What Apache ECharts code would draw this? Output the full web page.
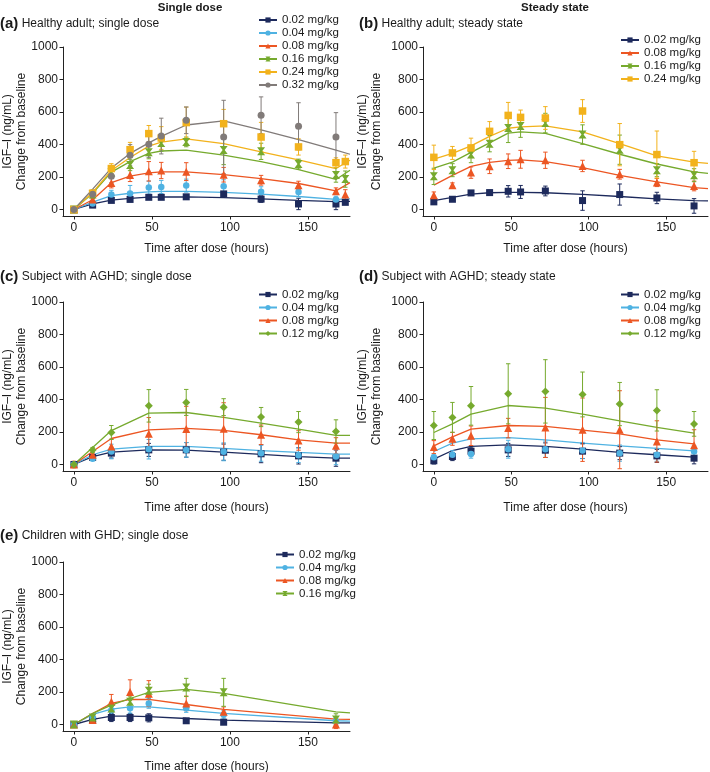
<!DOCTYPE html>
<html><head><meta charset="utf-8">
<script src="https://cdn.jsdelivr.net/npm/echarts@6/dist/echarts.min.js"></script>
<style>html,body{margin:0;padding:0;background:#fff}#c{width:710px;height:772px}</style>
</head><body><div id="c"></div>
<script>
// ---------------- DATA ----------------
const xTickValues = [0, 50, 100, 150];
const yTickValues = [0, 200, 400, 600, 800, 1000];

// (a) Healthy adult; single dose
const obsTimesA = [0, 12, 24, 36, 48, 56, 72, 96, 120, 144, 168, 174];
const modelTimesA = [0, 12, 24, 36, 48, 56, 72, 96, 120, 144, 168, 177];
const a002 = [0, 27, 56, 62, 75, 75, 78, 96, 64, 34, 34, 44];
const a002sd = [0, 8, 10, 10, 10, 10, 10, 15, 20, 35, 35, 10];
const a004 = [0, 37, 93, 98, 135, 139, 147, 143, 110, 108, 62, null];
const a004sd = [0, 10, 25, 50, 40, 40, 40, 40, 30, 30, 20, null];
const a008 = [0, 62, 163, 212, 235, 240, 233, 214, 180, 149, 113, 92];
const a008sd = [0, 15, 30, 40, 60, 50, 55, 45, 30, 25, 20, 30];
const a016 = [0, 92, 228, 274, 352, 409, 416, 366, 358, 280, 213, 187];
const a016sd = [0, 15, 25, 35, 40, 50, 30, 90, 50, 30, 45, 50];
const a024 = [0, 100, 252, 368, 467, 440, 535, 528, 446, 385, 288, 295];
const a024sd = [0, 20, 30, 45, 50, 70, 95, 88, 90, 50, 30, 40];
const a032 = [0, 94, 204, 334, 401, 452, 549, 446, 580, 512, 446, null];
const a032sd = [0, 25, 40, 65, 80, 110, 82, 226, 113, 145, 150, null];
const ma002 = [0, 35, 58, 68, 76, 77, 78, 73, 65, 56, 48, 50];
const ma004 = [0, 45, 85, 100, 108, 112, 112, 105, 95, 80, 62, 66];
const ma008 = [0, 60, 165, 205, 225, 232, 232, 215, 190, 160, 115, 165];
const ma016 = [0, 100, 230, 295, 345, 360, 365, 335, 295, 245, 185, 242];
const ma024 = [0, 105, 240, 320, 390, 415, 435, 405, 355, 305, 252, 303];
const ma032 = [0, 125, 255, 345, 410, 450, 520, 545, 490, 430, 365, 340];

// (b) Healthy adult; steady state
const obsTimesB = [0, 12, 24, 36, 48, 56, 72, 96, 120, 144, 168];
const modelTimesB = [0, 12, 24, 36, 48, 56, 72, 96, 120, 144, 168, 177];
const b002 = [47, 63, 102, 104, 112, 108, 114, 55, 92, 71, 22];
const b002sd = [15, 10, 15, 15, 35, 40, 30, 60, 65, 35, 45];
const b008 = [88, 149, 227, 266, 297, 309, 303, 268, 217, 166, 145];
const b008sd = [20, 15, 35, 45, 45, 55, 50, 35, 30, 25, 30];
const b016 = [204, 242, 338, 405, 502, 514, 532, 461, 368, 242, 211];
const b016sd = [50, 40, 50, 50, 90, 70, 60, 60, 90, 40, 40];
const b024 = [321, 348, 379, 481, 579, 567, 563, 606, 399, 338, 288];
const b024sd = [75, 40, 60, 60, 80, 45, 70, 70, 130, 145, 70];
const mb002 = [55, 75, 95, 103, 105, 105, 103, 93, 80, 65, 55, 53];
const mb008 = [150, 210, 265, 290, 302, 305, 295, 258, 210, 170, 135, 128];
const mb016 = [255, 292, 352, 410, 470, 478, 468, 405, 340, 280, 232, 222];
const mb024 = [310, 345, 392, 450, 500, 508, 514, 478, 405, 330, 292, 284];

// (c) Subject with AGHD; single dose
const obsTimesC = [0, 12, 24, 48, 72, 96, 120, 144, 168];
const modelTimesC = [0, 12, 24, 48, 72, 96, 120, 144, 168, 177];
const c002 = [0, 43, 70, 90, 90, 76, 66, 53, 39];
const c002sd = [10, 10, 30, 40, 45, 50, 55, 50, 50];
const c004 = [0, 35, 80, 94, 90, 78, 70, 57, 49];
const c004sd = [10, 10, 45, 60, 45, 55, 50, 45, 50];
const c008 = [0, 60, 111, 189, 218, 220, 183, 148, 115];
const c008sd = [20, 10, 45, 100, 140, 160, 60, 60, 50];
const c012 = [0, 90, 197, 361, 382, 353, 292, 261, 203];
const c012sd = [10, 15, 43, 100, 80, 52, 59, 65, 72];
const mc002 = [0, 49, 76, 90, 88, 76, 62, 49, 39, 39];
const mc004 = [0, 60, 94, 111, 111, 99, 86, 74, 64, 64];
const mc008 = [0, 80, 160, 213, 222, 210, 183, 152, 131, 131];
const mc012 = [0, 105, 209, 316, 320, 290, 255, 218, 179, 179];

// (d) Subject with AGHD; steady state
const obsTimesD = [0, 12, 24, 48, 72, 96, 120, 144, 168];
const modelTimesD = [0, 12, 24, 48, 72, 96, 120, 144, 168];
const d002 = [23, 49, 82, 90, 88, 82, 70, 53, 39];
const d002sd = [20, 25, 25, 40, 45, 45, 40, 40, 35];
const d004 = [45, 60, 64, 94, 94, 86, 70, 60, 80];
const d004sd = [20, 25, 25, 55, 50, 50, 50, 40, 35];
const d008 = [107, 158, 177, 224, 228, 214, 214, 142, 119];
const d008sd = [40, 40, 60, 60, 185, 195, 240, 127, 95];
const d012 = [240, 290, 361, 435, 450, 431, 372, 333, 250];
const d012sd = [86, 92, 119, 185, 195, 138, 133, 127, 76];
const md002 = [33, 86, 111, 121, 111, 94, 74, 60, 45];
const md004 = [80, 131, 158, 166, 152, 131, 115, 99, 84];
const md008 = [115, 170, 218, 240, 234, 212, 189, 152, 127];
const md012 = [197, 250, 310, 363, 347, 310, 269, 228, 193];

// (e) Children with GHD; single dose
const obsTimesE = [0, 12, 24, 36, 48, 72, 96, 168];
const modelTimesE = [0, 12, 24, 36, 48, 72, 96, 168, 177];
const e002 = [0, 27, 43, 43, 41, 23, 14, null];
const e002sd = [0, 15, 25, 25, 25, 10, 10, null];
const e004 = [0, 45, 88, 100, 130, 100, 60, 20];
const e004sd = [0, 10, 25, 30, 30, 25, 25, 20];
const e008 = [0, 27, 140, 200, 190, 130, 78, 0];
const e008sd = [0, 10, 45, 75, 80, 45, 30, 25];
const e016 = [0, 43, 99, 140, 208, 228, 198, 31];
const e016sd = [0, 15, 20, 30, 40, 56, 86, 35];
const me002 = [0, 31, 51, 51, 49, 37, 27, 10, 10];
const me004 = [0, 62, 95, 109, 109, 88, 68, 23, 21];
const me008 = [0, 68, 130, 154, 154, 123, 93, 33, 31];
const me016 = [0, 68, 119, 160, 198, 216, 191, 78, 72];

// ---------------- STYLE ----------------
const FONT = "'Liberation Sans', Arial, Helvetica, sans-serif";
const TXT = '#1a1a1a';
const HOURGLASS = 'path://M0,0L10,0L6.3,5L10,10L0,10L3.7,5Z';
const doseStyle = {
  '0.02 mg/kg': { color: '#1d2a5c', symbol: 'rect', size: 7 },
  '0.04 mg/kg': { color: '#4fb2e2', symbol: 'circle', size: 6.5 },
  '0.08 mg/kg': { color: '#ec5623', symbol: 'triangle', size: 8 },
  '0.12 mg/kg': { color: '#76aa2e', symbol: 'diamond', size: 8 },
  '0.16 mg/kg': { color: '#76aa2e', symbol: HOURGLASS, size: 8 },
  '0.24 mg/kg': { color: '#f2b21c', symbol: 'rect', size: 7.5 },
  '0.32 mg/kg': { color: '#817b79', symbol: 'circle', size: 7 }
};

const panels = [
  { grid: { left: 63, top: 47, width: 287, height: 169 }, xTitleY: 248.5, legendPos: { left: 258, top: 13.5 },
    yNameX: 15, obsT: obsTimesA, modT: modelTimesA,
    doses: [['0.02 mg/kg', a002, a002sd, ma002], ['0.04 mg/kg', a004, a004sd, ma004], ['0.08 mg/kg', a008, a008sd, ma008],
            ['0.16 mg/kg', a016, a016sd, ma016], ['0.24 mg/kg', a024, a024sd, ma024], ['0.32 mg/kg', a032, a032sd, ma032]] },
  { grid: { left: 423, top: 47, width: 285, height: 169 }, xTitleY: 248.5, legendPos: { left: 620, top: 33.5 },
    yNameX: 370, obsT: obsTimesB, modT: modelTimesB,
    doses: [['0.02 mg/kg', b002, b002sd, mb002], ['0.08 mg/kg', b008, b008sd, mb008],
            ['0.16 mg/kg', b016, b016sd, mb016], ['0.24 mg/kg', b024, b024sd, mb024]] },
  { grid: { left: 63, top: 302, width: 287, height: 169 }, xTitleY: 508, legendPos: { left: 258, top: 288 },
    yNameX: 15, obsT: obsTimesC, modT: modelTimesC,
    doses: [['0.02 mg/kg', c002, c002sd, mc002], ['0.04 mg/kg', c004, c004sd, mc004],
            ['0.08 mg/kg', c008, c008sd, mc008], ['0.12 mg/kg', c012, c012sd, mc012]] },
  { grid: { left: 423, top: 302, width: 285, height: 169 }, xTitleY: 508, legendPos: { left: 620, top: 288 },
    yNameX: 370, obsT: obsTimesD, modT: modelTimesD,
    doses: [['0.02 mg/kg', d002, d002sd, md002], ['0.04 mg/kg', d004, d004sd, md004],
            ['0.08 mg/kg', d008, d008sd, md008], ['0.12 mg/kg', d012, d012sd, md012]] },
  { grid: { left: 63, top: 562, width: 287, height: 169 }, xTitleY: 766.5, legendPos: { left: 275, top: 548 },
    yNameX: 15, obsT: obsTimesE, modT: modelTimesE,
    doses: [['0.02 mg/kg', e002, e002sd, me002], ['0.04 mg/kg', e004, e004sd, me004],
            ['0.08 mg/kg', e008, e008sd, me008], ['0.16 mg/kg', e016, e016sd, me016]] }
];

const panelLabels = [
  ['(a)', 'Healthy adult; single dose', 0, 24],
  ['(b)', 'Healthy adult; steady state', 359, 24],
  ['(c)', 'Subject with AGHD; single dose', 0, 277],
  ['(d)', 'Subject with AGHD; steady state', 359, 277],
  ['(e)', 'Children with GHD; single dose', 0, 536]
];

function pairs(t, v) {
  const out = [];
  t.forEach((x, i) => { if (v[i] != null) out.push([x, v[i]]); });
  return out;
}

const grids = [], xAxes = [], yAxes = [], series = [], legends = [], graphics = [];

panels.forEach((p, k) => {
  grids.push(p.grid);
  xAxes.push({
    type: 'value', gridIndex: k, min: -7, max: 177,
    axisLine: { onZero: false, lineStyle: { color: '#222', width: 1 } },
    axisTick: { show: true, length: 3.5, customValues: xTickValues, lineStyle: { color: '#222' } },
    axisLabel: { customValues: xTickValues, fontFamily: FONT, fontSize: 12, color: TXT, margin: 6,
                 formatter: v => String(v) },
    splitLine: { show: false }
  });
  yAxes.push({
    type: 'value', gridIndex: k, min: -40, max: 1000,
    axisLine: { show: true, onZero: false, lineStyle: { color: '#222', width: 1 } },
    axisTick: { show: true, length: 3.5, customValues: yTickValues, lineStyle: { color: '#222' } },
    axisLabel: { customValues: yTickValues, fontFamily: FONT, fontSize: 12, color: TXT, margin: 5,
                 formatter: v => String(v) },
    splitLine: { show: false }
  });
  // model lines
  p.doses.forEach(d => {
    const st = doseStyle[d[0]];
    series.push({
      type: 'line', name: d[0], xAxisIndex: k, yAxisIndex: k, data: pairs(p.modT, d[3]),
      showSymbol: false, symbol: st.symbol, symbolSize: st.size, silent: true,
      lineStyle: { color: st.color, width: 1.3 }, itemStyle: { color: st.color }, z: 2
    });
  });
  // error bars
  p.doses.forEach((d, j) => {
    const st = doseStyle[d[0]];
    const data = [];
    p.obsT.forEach((t, i) => {
      if (d[1][i] != null && d[2][i]) data.push([t, d[1][i] - d[2][i], d[1][i] + d[2][i]]);
    });
    series.push({
      type: 'custom', name: 'err' + k + '_' + j, xAxisIndex: k, yAxisIndex: k, data: data,
      silent: true, clip: false, z: 3, encode: { x: 0, y: [1, 2] },
      renderItem: function (params, api) {
        const lo = api.coord([api.value(0), api.value(1)]);
        const hi = api.coord([api.value(0), api.value(2)]);
        const w = 2.2;
        const style = { stroke: st.color, lineWidth: 1, fill: null };
        return { type: 'group', children: [
          { type: 'line', shape: { x1: lo[0], y1: lo[1], x2: hi[0], y2: hi[1] }, style: style },
          { type: 'line', shape: { x1: lo[0] - w, y1: lo[1], x2: lo[0] + w, y2: lo[1] }, style: style },
          { type: 'line', shape: { x1: hi[0] - w, y1: hi[1], x2: hi[0] + w, y2: hi[1] }, style: style }
        ] };
      }
    });
  });
  // observed points
  p.doses.forEach((d, j) => {
    const st = doseStyle[d[0]];
    series.push({
      type: 'scatter', name: 'obs' + k + '_' + j, xAxisIndex: k, yAxisIndex: k, data: pairs(p.obsT, d[1]),
      symbol: st.symbol, symbolSize: st.size, itemStyle: { color: st.color, opacity: 1 }, silent: true, z: 4
    });
  });
  legends.push({
    data: p.doses.map(d => d[0]), orient: 'vertical', left: p.legendPos.left, top: p.legendPos.top,
    padding: 0, itemWidth: 18, itemHeight: 6.5, itemGap: 0, selectedMode: false,
    textStyle: { fontFamily: FONT, fontSize: 11.5, color: TXT, lineHeight: 13 }
  });
  // y-axis title
  graphics.push({
    type: 'text', x: p.yNameX, y: p.grid.top + p.grid.height / 2, rotation: Math.PI / 2,
    style: { text: 'IGF–I (ng/mL)\nChange from baseline', align: 'center', verticalAlign: 'middle',
             font: '12px ' + FONT, lineHeight: 14, fill: TXT }
  });
  // x-axis title
  graphics.push({
    type: 'text', x: p.grid.left + p.grid.width / 2, y: p.xTitleY,
    style: { text: 'Time after dose (hours)', align: 'center', verticalAlign: 'middle',
             font: '12px ' + FONT, fill: TXT }
  });
});

panelLabels.forEach(l => {
  graphics.push({
    type: 'text', x: l[2], y: l[3],
    style: { text: '{b|' + l[0] + '} ' + l[1], verticalAlign: 'middle', align: 'left',
             font: '12px ' + FONT, fill: TXT,
             rich: { b: { fontFamily: FONT, fontSize: 15, fontWeight: 'bold', fill: TXT, color: TXT } } }
  });
});
graphics.push({ type: 'text', x: 190, y: 8, style: { text: 'Single dose', align: 'center', verticalAlign: 'middle', font: 'bold 11.5px ' + FONT, fill: TXT } });
graphics.push({ type: 'text', x: 555, y: 8, style: { text: 'Steady state', align: 'center', verticalAlign: 'middle', font: 'bold 11.5px ' + FONT, fill: TXT } });

const chart = echarts.init(document.getElementById('c'), null, { renderer: 'canvas' });
chart.setOption({
  backgroundColor: '#ffffff',
  animation: false,
  grid: grids, xAxis: xAxes, yAxis: yAxes, series: series, legend: legends, graphic: graphics
});
</script>
</body></html>
